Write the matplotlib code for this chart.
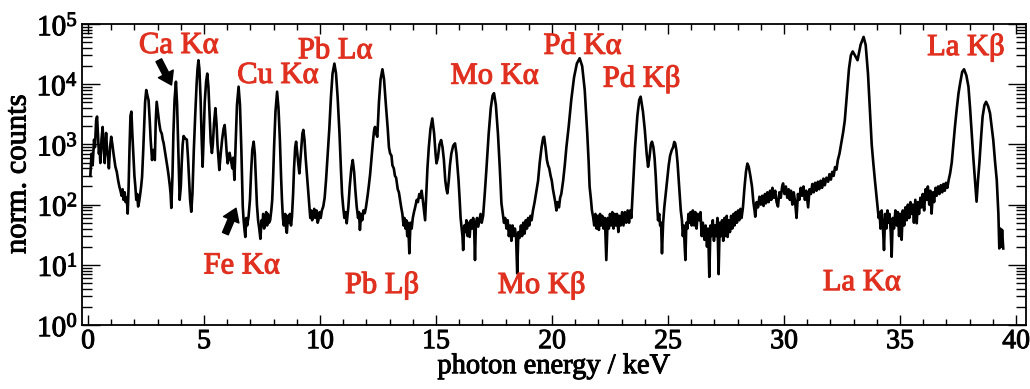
import matplotlib
matplotlib.use('Agg')
import matplotlib.pyplot as plt
import matplotlib.patheffects as pe
from matplotlib.ticker import MultipleLocator, LogLocator, FixedLocator, NullFormatter

plt.rcParams['font.family'] = ['Liberation Serif', 'DejaVu Serif']
plt.rcParams['mathtext.fontset'] = 'custom'
plt.rcParams['mathtext.rm'] = 'Liberation Serif'

# spectrum, (energy in keV, normalised counts), in pieces
spec_0_5 = [
    (0.10, 300), (0.15, 700), (0.20, 450), (0.26, 1200), (0.30, 900), (0.35, 2500), (0.39, 2900),
    (0.44, 1200), (0.47, 700), (0.50, 900), (0.53, 490), (0.58, 1200), (0.63, 1950), (0.67, 900),
    (0.72, 490), (0.75, 1000), (0.78, 1550), (0.82, 800), (0.87, 600), (0.90, 400), (0.95, 900),
    (1.00, 1340), (1.05, 1000), (1.10, 700), (1.14, 550), (1.18, 425), (1.24, 350), (1.30, 250),
    (1.35, 200), (1.39, 175), (1.45, 140), (1.49, 180), (1.53, 120), (1.58, 160), (1.62, 110),
    (1.67, 130), (1.71, 71), (1.75, 200), (1.79, 900), (1.83, 3000), (1.87, 3500), (1.91, 1500),
    (1.96, 600), (2.00, 300), (2.04, 200), (2.08, 120), (2.12, 150), (2.16, 93), (2.20, 110),
    (2.25, 150), (2.29, 200), (2.33, 290), (2.38, 800), (2.42, 2000), (2.46, 5000), (2.51, 8000),
    (2.56, 6500), (2.61, 5400), (2.66, 2500), (2.70, 1200), (2.76, 550), (2.79, 700), (2.82, 810),
    (2.85, 600), (2.88, 550), (2.92, 2500), (2.96, 5100), (3.01, 3500), (3.07, 2240), (3.12, 1700),
    (3.18, 1500), (3.22, 1200), (3.26, 1050), (3.32, 750), (3.38, 550), (3.43, 400), (3.48, 290),
    (3.53, 200), (3.56, 150), (3.59, 88), (3.64, 300), (3.68, 1500), (3.73, 5500), (3.79, 11000),
    (3.84, 4500), (3.88, 1200), (3.92, 300), (3.95, 120), (4.00, 200), (4.04, 500), (4.08, 1000),
    (4.12, 1380), (4.19, 1250), (4.26, 1200), (4.31, 600), (4.36, 250), (4.40, 120), (4.45, 76),
    (4.50, 150), (4.56, 800), (4.62, 3000), (4.68, 10000), (4.72, 18000), (4.76, 25000),
    (4.80, 18000), (4.85, 6000), (4.90, 1200), (4.94, 425), (4.98, 1200),
]
spec_5_10 = [
    (5.03, 5000), (5.09, 11000), (5.14, 15000), (5.19, 9000), (5.24, 3000), (5.29, 1100),
    (5.34, 720), (5.38, 1000), (5.43, 2200), (5.49, 4000), (5.54, 2200), (5.58, 1000), (5.62, 600),
    (5.66, 375), (5.72, 700), (5.78, 1200), (5.84, 1800), (5.89, 2100), (5.94, 1200), (5.98, 700),
    (6.02, 485), (6.06, 600), (6.10, 725), (6.14, 600), (6.18, 485), (6.22, 400), (6.26, 600),
    (6.31, 257), (6.36, 1000), (6.42, 4500), (6.49, 9100), (6.55, 4500), (6.61, 800), (6.65, 200),
    (6.67, 93), (6.70, 60), (6.74, 40), (6.78, 29), (6.82, 60), (6.86, 45), (6.92, 63), (6.98, 120),
    (7.03, 350), (7.08, 800), (7.14, 1110), (7.19, 700), (7.24, 250), (7.28, 100), (7.33, 55),
    (7.38, 40), (7.43, 27), (7.48, 55), (7.52, 45), (7.55, 70), (7.59, 40), (7.63, 50), (7.68, 75),
    (7.72, 45), (7.75, 70), (7.80, 50), (7.85, 55), (7.90, 80), (7.94, 120), (7.98, 300),
    (8.02, 900), (8.08, 3500), (8.15, 7500), (8.21, 4000), (8.27, 1200), (8.32, 300), (8.36, 120),
    (8.40, 60), (8.44, 45), (8.50, 70), (8.54, 40), (8.57, 34), (8.62, 65), (8.66, 50), (8.70, 70),
    (8.75, 45), (8.79, 63), (8.84, 150), (8.88, 400), (8.93, 900), (8.97, 1110), (9.02, 700),
    (9.07, 450), (9.11, 330), (9.16, 600), (9.20, 1000), (9.24, 1500), (9.28, 1740), (9.33, 1200),
    (9.38, 600), (9.42, 375), (9.48, 180), (9.54, 93), (9.58, 60), (9.62, 80), (9.66, 55),
    (9.71, 63), (9.75, 85), (9.80, 60), (9.85, 80), (9.90, 50), (9.93, 55), (9.98, 75),
]
spec_10_16 = [
    (10.03, 60), (10.08, 80), (10.14, 93), (10.20, 130), (10.26, 257), (10.33, 700), (10.40, 1800),
    (10.47, 6000), (10.54, 15000), (10.62, 22000), (10.69, 15000), (10.76, 6000), (10.84, 1500),
    (10.90, 400), (10.95, 150), (11.00, 90), (11.05, 60), (11.10, 75), (11.15, 49), (11.22, 90),
    (11.28, 200), (11.35, 400), (11.41, 550), (11.47, 350), (11.52, 180), (11.58, 93), (11.64, 60),
    (11.68, 75), (11.72, 38), (11.77, 70), (11.82, 55), (11.87, 80), (11.93, 72), (11.98, 90),
    (12.05, 140), (12.10, 200), (12.16, 320), (12.22, 600), (12.28, 1100), (12.33, 1700),
    (12.37, 1950), (12.42, 1500), (12.47, 1340), (12.54, 5000), (12.61, 12000), (12.69, 17700),
    (12.76, 12000), (12.84, 4500), (12.92, 1800), (12.97, 900), (13.02, 710), (13.08, 650),
    (13.12, 450), (13.18, 400), (13.23, 300), (13.28, 280), (13.35, 180), (13.40, 160),
    (13.45, 120), (13.50, 90), (13.55, 70), (13.60, 45), (13.64, 60), (13.68, 40), (13.72, 55),
    (13.76, 30), (13.80, 50), (13.85, 15.5), (13.90, 50), (13.95, 40), (14.00, 60), (14.05, 75),
    (14.10, 90), (14.17, 120), (14.22, 110), (14.28, 150), (14.33, 130), (14.38, 170), (14.43, 120),
    (14.48, 80), (14.53, 55), (14.58, 150), (14.63, 400), (14.69, 900), (14.76, 1800), (14.84, 2700),
    (14.92, 1500), (14.98, 700), (15.02, 485), (15.08, 600), (15.15, 1000), (15.22, 1180),
    (15.28, 900), (15.34, 550), (15.40, 250), (15.45, 180), (15.49, 154), (15.55, 250), (15.60, 450),
    (15.66, 700), (15.74, 950), (15.82, 1040), (15.88, 700), (15.93, 400), (15.97, 257),
]
spec_16_22 = [
    (16.02, 120), (16.06, 60), (16.10, 43), (16.14, 30), (16.17, 17.6), (16.22, 45), (16.27, 35),
    (16.31, 55), (16.36, 30), (16.41, 50), (16.45, 29), (16.50, 55), (16.55, 40), (16.60, 60),
    (16.64, 45), (16.68, 12), (16.72, 50), (16.77, 60), (16.82, 43), (16.87, 55), (16.92, 70),
    (16.97, 50), (17.03, 65), (17.10, 150), (17.17, 375), (17.27, 1500), (17.36, 4000),
    (17.44, 6500), (17.50, 7100), (17.58, 4500), (17.67, 1500), (17.75, 400), (17.82, 105),
    (17.88, 70), (17.93, 50), (17.98, 60), (18.04, 40), (18.09, 55), (18.14, 30), (18.20, 45),
    (18.25, 25), (18.30, 45), (18.35, 30), (18.40, 40), (18.45, 30), (18.50, 7.2), (18.55, 35),
    (18.60, 28), (18.66, 45), (18.71, 30), (18.76, 50), (18.82, 33), (18.87, 55), (18.92, 40),
    (18.97, 60), (19.02, 45), (19.07, 65), (19.12, 55), (19.18, 80), (19.25, 110), (19.32, 160),
    (19.40, 250), (19.47, 500), (19.55, 900), (19.62, 1300), (19.66, 1340), (19.72, 900),
    (19.78, 550), (19.83, 450), (19.88, 400), (19.94, 300), (19.99, 250), (20.04, 180),
    (20.09, 140), (20.14, 110), (20.19, 80), (20.24, 110), (20.30, 90), (20.35, 130), (20.40, 150),
    (20.48, 250), (20.55, 450), (20.62, 900), (20.72, 2000), (20.83, 5500), (20.95, 13000),
    (21.07, 22000), (21.19, 27000), (21.30, 20000), (21.41, 8000), (21.52, 1500), (21.58, 500),
    (21.62, 200), (21.68, 120), (21.72, 80), (21.77, 63), (21.82, 45), (21.87, 70), (21.92, 40),
    (21.97, 65), (22.02, 38),
]
spec_22_28 = [
    (22.07, 70), (22.12, 45), (22.17, 65), (22.22, 40), (22.28, 60), (22.34, 12), (22.40, 60),
    (22.45, 40), (22.50, 70), (22.55, 45), (22.60, 75), (22.65, 40), (22.70, 70), (22.75, 45),
    (22.80, 70), (22.86, 35), (22.91, 65), (22.96, 45), (23.02, 75), (23.08, 45), (23.14, 75),
    (23.20, 50), (23.26, 80), (23.32, 50), (23.37, 80), (23.42, 60), (23.49, 200), (23.58, 900),
    (23.68, 3000), (23.76, 5500), (23.82, 6200), (23.92, 3500), (24.00, 1740), (24.08, 700),
    (24.14, 425), (24.20, 600), (24.26, 1000), (24.31, 1110), (24.37, 900), (24.42, 600),
    (24.47, 300), (24.52, 120), (24.57, 55), (24.62, 70), (24.66, 45), (24.70, 50), (24.74, 15.5),
    (24.79, 50), (24.84, 90), (24.90, 150), (24.96, 250), (25.03, 450), (25.09, 650), (25.16, 800),
    (25.22, 900), (25.27, 1100), (25.31, 1040), (25.36, 800), (25.41, 500), (25.45, 300),
    (25.50, 150), (25.55, 80), (25.60, 55), (25.64, 30), (25.68, 45), (25.72, 20), (25.75, 12),
    (25.79, 50), (25.84, 40), (25.88, 70), (25.92, 50), (25.97, 75), (26.02, 45), (26.07, 80),
    (26.13, 45), (26.18, 75), (26.23, 40), (26.28, 70), (26.35, 55), (26.40, 75), (26.45, 30),
    (26.50, 50), (26.57, 26), (26.62, 45), (26.68, 20), (26.73, 40), (26.78, 6.3), (26.83, 45),
    (26.88, 30), (26.93, 55), (26.98, 25), (27.03, 45), (27.08, 30), (27.13, 60), (27.18, 7),
    (27.23, 50), (27.28, 30), (27.33, 55), (27.38, 25), (27.43, 60), (27.48, 30), (27.53, 65),
    (27.57, 29), (27.62, 55), (27.67, 35), (27.72, 65), (27.77, 40), (27.82, 70), (27.87, 45),
    (27.92, 75), (27.97, 50),
]
spec_28_34 = [
    (28.02, 80), (28.07, 55), (28.12, 85), (28.17, 60), (28.23, 90), (28.30, 200), (28.36, 350),
    (28.42, 480), (28.48, 425), (28.55, 300), (28.62, 200), (28.68, 110), (28.73, 80), (28.76, 63),
    (28.82, 110), (28.88, 90), (28.94, 135), (29.00, 100), (29.06, 140), (29.12, 95), (29.18, 150),
    (29.22, 105), (29.28, 160), (29.34, 110), (29.40, 170), (29.45, 120), (29.50, 190),
    (29.56, 130), (29.62, 170), (29.68, 110), (29.74, 93), (29.80, 160), (29.86, 130), (29.92, 200),
    (29.96, 225), (30.02, 150), (30.08, 200), (30.14, 130), (30.20, 180), (30.25, 120),
    (30.30, 170), (30.36, 100), (30.42, 160), (30.48, 110), (30.54, 60), (30.60, 150), (30.66, 120),
    (30.72, 190), (30.78, 140), (30.84, 200), (30.90, 120), (30.96, 170), (31.04, 90), (31.10, 180),
    (31.16, 150), (31.22, 220), (31.28, 160), (31.34, 230), (31.40, 170), (31.46, 240),
    (31.52, 180), (31.58, 250), (31.64, 190), (31.70, 270), (31.76, 210), (31.83, 280),
    (31.90, 240), (31.96, 320), (32.02, 260), (32.08, 350), (32.14, 300), (32.20, 420),
    (32.26, 380), (32.32, 550), (32.39, 700), (32.46, 1000), (32.55, 1600), (32.62, 2500),
    (32.70, 6000), (32.80, 18000), (32.88, 30000), (32.96, 35000), (33.06, 30000), (33.17, 25000),
    (33.30, 45000), (33.43, 61000), (33.52, 45000), (33.62, 15000), (33.71, 3300), (33.78, 1000),
    (33.85, 485), (33.92, 250), (33.99, 135),
]
spec_34_40 = [
    (34.04, 90), (34.08, 60), (34.12, 75), (34.16, 40), (34.21, 80), (34.26, 45), (34.31, 17.6),
    (34.36, 70), (34.41, 40), (34.46, 80), (34.50, 50), (34.55, 70), (34.60, 35), (34.64, 13.6),
    (34.69, 60), (34.74, 40), (34.80, 80), (34.86, 45), (34.91, 75), (34.96, 30), (35.02, 70),
    (35.07, 26), (35.12, 80), (35.18, 45), (35.23, 90), (35.29, 55), (35.34, 100), (35.40, 60),
    (35.45, 110), (35.50, 70), (35.55, 100), (35.60, 50), (35.66, 120), (35.72, 49), (35.77, 110),
    (35.82, 70), (35.88, 130), (35.93, 90), (35.98, 150), (36.04, 80), (36.10, 180), (36.15, 120),
    (36.20, 200), (36.26, 100), (36.31, 170), (36.36, 71), (36.42, 160), (36.47, 110), (36.53, 190),
    (36.58, 140), (36.64, 200), (36.70, 150), (36.76, 210), (36.82, 160), (36.87, 220),
    (36.93, 170), (36.98, 230), (37.04, 190), (37.10, 260), (37.16, 330), (37.23, 500),
    (37.30, 1000), (37.37, 2000), (37.44, 3700), (37.52, 7000), (37.59, 10300), (37.68, 16000),
    (37.76, 17700), (37.86, 14000), (37.95, 9100), (38.02, 4000), (38.09, 1520), (38.16, 600),
    (38.23, 257), (38.30, 112), (38.36, 250), (38.42, 485), (38.50, 1400), (38.56, 2900),
    (38.64, 4500), (38.71, 5100), (38.80, 4300), (38.88, 3300), (38.95, 2000), (39.02, 1180),
    (39.10, 500), (39.17, 257), (39.24, 71), (39.28, 18.7), (39.32, 40), (39.36, 20), (39.40, 38),
    (39.45, 18.7),
]

spectrum = spec_0_5 + spec_5_10 + spec_10_16 + spec_16_22 + spec_22_28 + spec_28_34 + spec_34_40
energy_kev = [p[0] for p in spectrum]
counts = [p[1] for p in spectrum]

# line labels
line_names = ['Ca Kα', 'Cu Kα', 'Pb Lα', 'Mo Kα', 'Pd Kα', 'Pd Kβ', 'La Kβ',
              'Fe Kα', 'Pb Lβ', 'Mo Kβ', 'La Kα']
label_x = [3.91, 8.18, 10.65, 17.52, 21.31, 23.86, 37.84, 6.62, 12.67, 19.55, 33.35]
label_y = [3.3e4, 1.05e4, 2.7e4, 1.02e4, 3.2e4, 9.1e3, 3.05e4, 7.2, 3.4, 3.4, 3.8]

red = '#e0301f'

fig = plt.figure(figsize=(10.30, 3.89), dpi=100)
ax = fig.add_axes([0.0796, 0.1645, 0.9165, 0.7738])

ax.plot(energy_kev, counts, color='black', lw=1.9)

ax.set_yscale('log')
ax.set_xlim(-0.26, 40.43)
ax.set_ylim(1, 1e5)

# ticks
ax.xaxis.set_major_locator(MultipleLocator(5))
ax.xaxis.set_minor_locator(MultipleLocator(1))
ax.yaxis.set_major_locator(FixedLocator([1, 10, 100, 1e3, 1e4, 1e5]))
ax.yaxis.set_minor_locator(LogLocator(base=10, subs=range(2, 10), numticks=20))
ax.yaxis.set_minor_formatter(NullFormatter())
ax.set_yticklabels([r'$\mathregular{10^{%d}}$' % k for k in range(6)])
ax.tick_params(axis='both', which='both', direction='in', top=True, right=True,
               colors='black', width=1.0)
ax.tick_params(axis='y', which='major', length=13, pad=3, labelsize=21)
ax.tick_params(axis='y', which='minor', length=7)
ax.tick_params(axis='x', which='major', length=7, pad=3, labelsize=20)
ax.tick_params(axis='x', which='minor', length=4)
for sp in ax.spines.values():
    sp.set_linewidth(1.3)

# the original lettering is a bit heavier than Liberation Serif
heavy_black = [pe.withStroke(linewidth=0.7, foreground='black')]
heavy_red = [pe.withStroke(linewidth=0.8, foreground=red)]

ax.set_ylabel('norm. counts', fontsize=22, labelpad=3, path_effects=heavy_black)
ax.set_xlabel('photon energy / keV', fontsize=20.5, labelpad=0, path_effects=heavy_black)
for lab in ax.get_xticklabels() + ax.get_yticklabels():
    lab.set_path_effects(heavy_black)

for name, x, y in zip(line_names, label_x, label_y):
    ax.text(x, y, name, color=red, fontsize=22, ha='center', va='baseline',
            path_effects=heavy_red)

# arrows for Ca and Fe lines
arrow_style = dict(facecolor='black', edgecolor='black', width=4.5, headwidth=12,
                   headlength=9, shrink=0)
ax.annotate('', xy=(3.6, 9.7e3), xytext=(3.05, 2.5e4), arrowprops=arrow_style)
ax.annotate('', xy=(6.38, 87), xytext=(5.92, 33), arrowprops=arrow_style)

fig.savefig('out.png', dpi=100)
